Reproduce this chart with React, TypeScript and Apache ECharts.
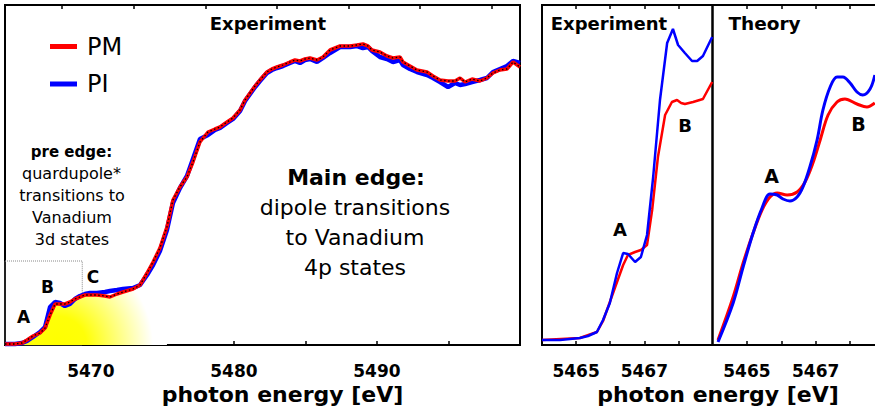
import React, { useEffect, useRef } from "react";
import * as echarts from "echarts";

// ---------- Main panel (experiment, 5464–5500 eV) ----------
const mainEnergy = [
  5464.0, 5464.7, 5465.19, 5465.54, 5465.96, 5466.45, 5466.8, 5467.15, 5467.5, 5467.84,
  5468.19, 5468.54, 5468.89, 5469.24, 5469.59, 5469.94, 5470.43, 5470.99, 5471.34, 5471.83,
  5472.25, 5472.95, 5473.44, 5473.93, 5474.35, 5474.83, 5475.32, 5475.74, 5476.23, 5476.72,
  5477.14, 5477.63, 5478.19, 5478.68, 5479.03, 5479.52, 5479.94, 5480.43, 5480.78, 5481.13,
  5481.48, 5481.82, 5482.31, 5482.66, 5483.01, 5483.43, 5483.92, 5484.27, 5484.62, 5484.97,
  5485.32, 5485.81, 5486.23, 5486.72, 5487.42, 5488.12, 5488.61, 5489.02, 5489.37, 5489.65,
  5490.21, 5490.7, 5491.12, 5491.61, 5491.82, 5492.31, 5492.8, 5493.5, 5493.92, 5494.41,
  5494.97, 5495.46, 5495.81, 5496.16, 5496.65, 5497.2, 5497.69, 5498.11, 5498.6, 5499.09,
  5499.51, 5500.0,
];
const mainPM = [
  0.005, 0.005, 0.01, 0.025, 0.045, 0.06, 0.085, 0.15, 0.205, 0.205,
  0.205, 0.215, 0.23, 0.24, 0.25, 0.25, 0.25, 0.245, 0.24, 0.255,
  0.265, 0.28, 0.3, 0.36, 0.415, 0.485, 0.59, 0.725, 0.79, 0.84,
  0.915, 1.015, 1.065, 1.08, 1.09, 1.115, 1.135, 1.175, 1.225, 1.26,
  1.295, 1.325, 1.365, 1.38, 1.39, 1.4, 1.415, 1.425, 1.42, 1.43,
  1.435, 1.425, 1.44, 1.475, 1.495, 1.495, 1.5, 1.505, 1.495, 1.475,
  1.465, 1.445, 1.435, 1.44, 1.415, 1.395, 1.375, 1.365, 1.345, 1.325,
  1.32, 1.32, 1.335, 1.315, 1.33, 1.32, 1.335, 1.36, 1.375, 1.38,
  1.415, 1.39,
];
const mainPI = [
  0.005, 0.005, 0.01, 0.02, 0.04, 0.065, 0.09, 0.19, 0.215, 0.21,
  0.195, 0.205, 0.23, 0.245, 0.255, 0.26, 0.26, 0.265, 0.27, 0.275,
  0.28, 0.285, 0.3, 0.35, 0.4, 0.47, 0.575, 0.71, 0.785, 0.845,
  0.93, 1.03, 1.05, 1.075, 1.085, 1.11, 1.13, 1.17, 1.22, 1.255,
  1.29, 1.32, 1.36, 1.375, 1.385, 1.395, 1.41, 1.42, 1.41, 1.425,
  1.43, 1.415, 1.435, 1.46, 1.49, 1.49, 1.495, 1.485, 1.49, 1.47,
  1.44, 1.43, 1.415, 1.425, 1.4, 1.38, 1.365, 1.35, 1.335, 1.315,
  1.29, 1.31, 1.3, 1.305, 1.315, 1.325, 1.335, 1.365, 1.38, 1.395,
  1.42, 1.41,
];
const preEdgeFillEnd = 5475.4;
const preEdgeBoxEnergy = [5464, 5469.4];
const preEdgeBoxValue = [0, 0.42];

const mainTickValues = [5465, 5470, 5475, 5480, 5485, 5490, 5495];
const mainTopTickValues = [5468, 5473, 5478, 5483, 5488, 5493, 5498];
const mainLabelValues = [5470, 5480, 5490];

// ---------- Zoomed experiment panel (5464–5469 eV) ----------
const zoomEnergyPM = [
  5464.0, 5465.11, 5465.61, 5465.79, 5465.99, 5466.2, 5466.38, 5466.52, 5466.73, 5466.9,
  5467.08, 5467.23, 5467.4, 5467.61, 5467.81, 5467.96, 5468.08, 5468.19, 5468.43, 5468.72,
  5468.99,
];
const zoomPM = [
  0.025, 0.035, 0.065, 0.12, 0.215, 0.315, 0.4, 0.45, 0.465, 0.475,
  0.5, 0.675, 0.94, 1.15, 1.215, 1.225, 1.21, 1.205, 1.215, 1.23,
  1.315,
];
const zoomEnergyPI = [
  5464.0, 5464.53, 5465.11, 5465.35, 5465.61, 5465.79, 5465.99, 5466.2, 5466.38, 5466.52,
  5466.73, 5466.9, 5467.08, 5467.26, 5467.46, 5467.67, 5467.84, 5467.99, 5468.19, 5468.4,
  5468.55, 5468.72, 5468.99,
];
const zoomPI = [
  0.025, 0.025, 0.035, 0.045, 0.065, 0.125, 0.21, 0.36, 0.46, 0.455,
  0.415, 0.44, 0.55, 0.84, 1.225, 1.51, 1.58, 1.5, 1.46, 1.42,
  1.42, 1.445, 1.54,
];

// ---------- Theory panel (5464–5469 eV) ----------
const theoryEnergyPM = [
  5464.16, 5464.6, 5464.89, 5465.18, 5465.44, 5465.67, 5465.88, 5466.17, 5466.46, 5466.69,
  5466.92, 5467.13, 5467.36, 5467.62, 5467.85, 5468.2, 5468.49, 5468.72,
];
const theoryPM = [
  0.025, 0.24, 0.41, 0.56, 0.675, 0.74, 0.76, 0.75, 0.765, 0.815,
  0.91, 1.025, 1.15, 1.215, 1.23, 1.205, 1.19, 1.21,
];
const theoryEnergyPI = [
  5464.16, 5464.6, 5464.89, 5465.18, 5465.44, 5465.67, 5465.88, 5466.05, 5466.25, 5466.46,
  5466.63, 5466.83, 5467.04, 5467.21, 5467.42, 5467.62, 5467.79, 5468.0, 5468.2, 5468.37,
  5468.58, 5468.72,
];
const theoryPI = [
  0.015, 0.21, 0.39, 0.56, 0.685, 0.755, 0.75, 0.73, 0.72, 0.74,
  0.79, 0.89, 1.025, 1.175, 1.29, 1.34, 1.34, 1.31, 1.265, 1.25,
  1.28, 1.35,
];

const zoomTickValues = [5465, 5466, 5467, 5468];
const zoomLabelValues = [5465, 5467];

const RED = "#ff0000";
const BLUE = "#0000ff";
const FONT = '"DejaVu Sans", sans-serif';

const zip = (xs: number[], ys: number[]) =>
  xs.slice(0, Math.min(xs.length, ys.length)).map((x, i) => [x, ys[i]]);

function bottomAxis(gridIndex: number, min: number, max: number, ticks: number[], labels: number[]) {
  return {
    gridIndex,
    type: "value",
    min,
    max,
    position: "bottom",
    axisLine: { show: false },
    splitLine: { show: false },
    axisTick: {
      show: true,
      inside: true,
      length: 4,
      lineStyle: { color: "#000", width: 1.5 },
      customValues: ticks,
    },
    axisLabel: {
      show: true,
      customValues: labels,
      margin: 17,
      color: "#000",
      fontSize: 17,
      fontWeight: "bold",
      fontFamily: FONT,
      formatter: (v: number) => String(v),
    },
  };
}
function topAxis(gridIndex: number, min: number, max: number, ticks: number[]) {
  return {
    gridIndex,
    type: "value",
    min,
    max,
    position: "top",
    axisLine: { show: false },
    splitLine: { show: false },
    axisTick: {
      show: true,
      inside: true,
      length: 4,
      lineStyle: { color: "#000", width: 1.5 },
      customValues: ticks,
    },
    axisLabel: { show: false },
  };
}
function yAxis(gridIndex: number) {
  return {
    gridIndex,
    type: "value",
    min: 0,
    max: 1.7,
    show: false,
  };
}

const txt = (text: string, x: number, y: number, size: number, bold = false) => ({
  type: "text",
  x,
  y,
  silent: true,
  style: {
    text,
    fill: "#000",
    font: `${bold ? "bold " : ""}${size}px ${FONT}`,
    align: "center",
    verticalAlign: "middle",
  },
});

export default function App() {
  const ref = useRef<HTMLDivElement>(null);
  useEffect(() => {
    if (!ref.current) return;
    const chart = echarts.init(ref.current, undefined, { renderer: "svg" });
    const fillData = zip(mainEnergy, mainPM).filter((p) => p[0] <= preEdgeFillEnd);
    const gridStyle = {
      show: true,
      borderColor: "#000",
      borderWidth: 2,
      backgroundColor: "transparent",
      outerBoundsMode: "none",
      containLabel: false,
    };
    chart.setOption({
      animation: false,
      backgroundColor: "#fff",
      grid: [
        { ...gridStyle, left: 5, top: 5, width: 515, height: 340 },
        { ...gridStyle, left: 542, top: 5, width: 170.5, height: 340 },
        { ...gridStyle, left: 712.5, top: 5, width: 172, height: 340 },
      ],
      xAxis: [
        bottomAxis(0, 5464, 5500, mainTickValues, mainLabelValues),
        topAxis(0, 5464, 5500, mainTopTickValues),
        bottomAxis(1, 5464, 5469, zoomTickValues, zoomLabelValues),
        topAxis(1, 5464, 5469, zoomTickValues),
        bottomAxis(2, 5464, 5469, zoomTickValues, zoomLabelValues),
        topAxis(2, 5464, 5469, zoomTickValues),
      ],
      yAxis: [yAxis(0), yAxis(1), yAxis(2)],
      legend: {
        data: ["PM", "PI"],
        orient: "vertical",
        left: 45,
        top: 29.5,
        itemWidth: 27,
        itemHeight: 5,
        itemGap: 13.5,
        icon: "rect",
        selectedMode: false,
        textStyle: { fontSize: 24, fontFamily: FONT, color: "#000", padding: [0, 0, 0, 5] },
      },
      series: [
        {
          name: "pre-edge fill",
          type: "line",
          xAxisIndex: 0,
          yAxisIndex: 0,
          data: fillData,
          symbol: "none",
          silent: true,
          z: 1,
          lineStyle: { width: 0, color: "rgba(0,0,0,0)" },
          areaStyle: {
            color: {
              type: "radial",
              x: 58,
              y: 345,
              r: 95,
              global: true,
              colorStops: [
                { offset: 0, color: "#ffff00" },
                { offset: 0.3, color: "#ffff08" },
                { offset: 1, color: "#ffffff" },
              ],
            },
            opacity: 1,
          },
          markArea: {
            silent: true,
            label: { show: false },
            itemStyle: {
              color: "rgba(0,0,0,0)",
              borderColor: "#888",
              borderWidth: 1,
              borderType: "dotted",
            },
            data: [
              [
                { xAxis: preEdgeBoxEnergy[0], yAxis: preEdgeBoxValue[1] },
                { xAxis: preEdgeBoxEnergy[1], yAxis: preEdgeBoxValue[0] },
              ],
            ],
          },
        },
        {
          name: "PI",
          type: "line",
          xAxisIndex: 0,
          yAxisIndex: 0,
          data: zip(mainEnergy, mainPI),
          symbol: "none",
          z: 2,
          itemStyle: { color: BLUE },
          lineStyle: { color: BLUE, width: 4.5 },
        },
        {
          name: "PM",
          type: "line",
          xAxisIndex: 0,
          yAxisIndex: 0,
          data: zip(mainEnergy, mainPM),
          symbol: "none",
          z: 3,
          itemStyle: { color: RED },
          lineStyle: { color: RED, width: 3.5 },
        },
        {
          name: "fit",
          type: "line",
          xAxisIndex: 0,
          yAxisIndex: 0,
          data: zip(mainEnergy, mainPM),
          symbol: "none",
          z: 4,
          silent: true,
          lineStyle: { color: "#000", width: 1.3, type: [1.5, 2.5] },
        },
        {
          name: "PM",
          type: "line",
          xAxisIndex: 2,
          yAxisIndex: 1,
          data: zip(zoomEnergyPM, zoomPM),
          symbol: "none",
          itemStyle: { color: RED },
          lineStyle: { color: RED, width: 2.5 },
        },
        {
          name: "PI",
          type: "line",
          xAxisIndex: 2,
          yAxisIndex: 1,
          data: zip(zoomEnergyPI, zoomPI),
          symbol: "none",
          itemStyle: { color: BLUE },
          lineStyle: { color: BLUE, width: 2.5 },
        },
        {
          name: "PM",
          type: "line",
          xAxisIndex: 4,
          yAxisIndex: 2,
          data: zip(theoryEnergyPM, theoryPM),
          symbol: "none",
          smooth: 0.35,
          itemStyle: { color: RED },
          lineStyle: { color: RED, width: 3 },
        },
        {
          name: "PI",
          type: "line",
          xAxisIndex: 4,
          yAxisIndex: 2,
          data: zip(theoryEnergyPI, theoryPI),
          symbol: "none",
          smooth: 0.35,
          itemStyle: { color: BLUE },
          lineStyle: { color: BLUE, width: 3 },
        },
      ],
      graphic: [
        txt("Experiment", 268, 23.7, 18, true),
        txt("pre edge:", 71.5, 151.8, 15, true),
        txt("quardupole*", 71.5, 173.4, 16),
        txt("transitions to", 72, 195.4, 16),
        txt("Vanadium", 72, 217.4, 16),
        txt("3d states", 72, 239.4, 16),
        txt("A", 23.5, 317, 17, true),
        txt("B", 47.5, 287, 17, true),
        txt("C", 93, 277, 17, true),
        txt("Main edge:", 356, 177.3, 22, true),
        txt("dipole transitions", 355, 207.3, 22),
        txt("to Vanadium", 355, 237.3, 22),
        txt("4p states", 355, 267.3, 22),
        txt("photon energy [eV]", 282.5, 394.3, 22, true),
        txt("Experiment", 609, 23.8, 18, true),
        txt("A", 620, 229.7, 18, true),
        txt("B", 685, 125.7, 18, true),
        txt("Theory", 764.5, 23, 18.5, true),
        txt("A", 771.5, 176.3, 19, true),
        txt("B", 858.5, 124.3, 19, true),
        txt("photon energy [eV]", 718, 394.3, 22, true),
      ],
    });
    return () => chart.dispose();
  }, []);
  return (
    <div
      ref={ref}
      style={{ position: "fixed", left: 0, top: 0, width: 875, height: 419, background: "#fff" }}
    />
  );
}
